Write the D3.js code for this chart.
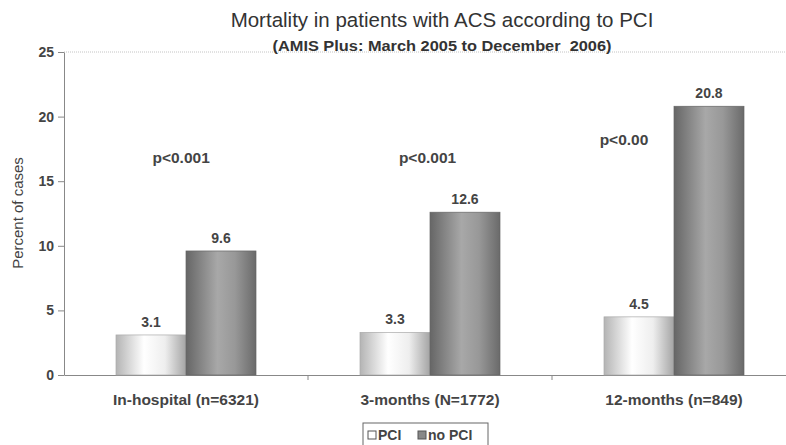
<!DOCTYPE html>
<html><head><meta charset="utf-8">
<script src="https://cdn.jsdelivr.net/npm/d3@7"></script>
<style>body{margin:0;background:#fff;}svg{display:block;font-family:"Liberation Sans",Arial,sans-serif;}</style>
</head><body>
<svg id="c" width="786" height="445"></svg>
<script>
const categories = ["In-hospital (n=6321)", "3-months (N=1772)", "12-months (n=849)"];
const seriesNames = ["PCI", "no PCI"];
const pciValues = [3.1, 3.3, 4.5];
const noPciValues = [9.6, 12.6, 20.8];
const pLabels = ["p<0.001", "p<0.001", "p<0.00"];
const pLevels = [16.8, 16.8, 18.2];
const yTicks = [0, 5, 10, 15, 20, 25];

const svg = d3.select("#c");
const W = 786;
const x0 = d3.scaleBand().domain(categories).range([64, 796]).paddingInner(0).paddingOuter(0);
const x1 = d3.scaleBand().domain(seriesNames).range([0, x0.bandwidth()]).paddingInner(0).paddingOuter(0.743);
const y = d3.scaleLinear().domain([0, 25]).range([375, 52]);
const pXfrac = [0.48, 0.49, 0.295];

const defs = svg.append("defs");
const g1 = defs.append("linearGradient").attr("id", "gPCI");
[[0,"#b4b4b4"],[0.4,"#ffffff"],[0.7,"#eeeeee"],[1,"#a4a4a4"]].forEach(s=>g1.append("stop").attr("offset",s[0]).attr("stop-color",s[1]));
const g2 = defs.append("linearGradient").attr("id", "gNo");
[[0,"#666666"],[0.45,"#a8a8a8"],[0.7,"#989898"],[1,"#6a6a6a"]].forEach(s=>g2.append("stop").attr("offset",s[0]).attr("stop-color",s[1]));

// top gridline
svg.append("line").attr("x1", 64).attr("x2", W).attr("y1", y(25)).attr("y2", y(25))
  .attr("stroke", "#c4c4c4").attr("stroke-dasharray", "1,1");

// y axis
const ya = svg.append("g").attr("transform", "translate(64,0)")
  .call(d3.axisLeft(y).tickValues(yTicks).tickSize(6).tickSizeOuter(0));
ya.select(".domain").attr("stroke", "#888");
ya.selectAll(".tick line").attr("stroke", "#888");
ya.selectAll("text").attr("fill", "#444").attr("font-size", 14).attr("font-weight", "bold").attr("dx", -1);

// x axis
const xa = svg.append("g").attr("transform", `translate(0,${y(0)})`)
  .call(d3.axisBottom(x0).tickSize(0).tickSizeOuter(0));
xa.select(".domain").attr("stroke", "#888");
xa.selectAll("text").attr("fill", "#444").attr("font-size", 15.5).attr("font-weight", "bold")
  .attr("y", 30).attr("dy", 0);
svg.selectAll(".bt").data(categories.slice(1)).enter().append("line")
  .attr("x1", d => x0(d)).attr("x2", d => x0(d)).attr("y1", y(0)).attr("y2", y(0) + 5).attr("stroke", "#888");

const data = categories.map((c, i) => ({c, vals: [pciValues[i], noPciValues[i]]}));
const grp = svg.selectAll(".grp").data(data).enter().append("g").attr("transform", d => `translate(${x0(d.c)},0)`);
grp.selectAll("rect").data(d => d.vals.map((v, j) => ({v, s: seriesNames[j]}))).enter().append("rect")
  .attr("x", d => x1(d.s)).attr("width", x1.bandwidth())
  .attr("y", d => y(d.v)).attr("height", d => y(0) - y(d.v))
  .attr("fill", d => d.s === "PCI" ? "url(#gPCI)" : "url(#gNo)")
  .attr("stroke", d => d.s === "PCI" ? "#aaa" : "#666").attr("stroke-width", 0.7);
grp.selectAll(".vl").data(d => d.vals.map((v, j) => ({v, s: seriesNames[j]}))).enter().append("text")
  .attr("x", d => x1(d.s) + x1.bandwidth() / 2).attr("y", d => y(d.v) - 8)
  .attr("text-anchor", "middle").attr("font-size", 14).attr("font-weight", "bold").attr("fill", "#444")
  .text(d => d.v.toFixed(1));

// p-values
svg.selectAll(".pv").data(categories).enter().append("text")
  .attr("x", (d, i) => x0(d) + x0.bandwidth() * pXfrac[i]).attr("y", (d, i) => y(pLevels[i]) + 5)
  .attr("text-anchor", "middle").attr("font-size", 15.5).attr("font-weight", "bold").attr("fill", "#444")
  .text((d, i) => pLabels[i]);

// titles
svg.append("text").attr("x", 442).attr("y", 27).attr("text-anchor", "middle")
  .attr("font-size", 20.5).attr("fill", "#333").text("Mortality in patients with ACS according to PCI");
svg.append("text").attr("x", 442).attr("y", 51).attr("text-anchor", "middle").style("white-space", "pre")
  .attr("font-size", 14).attr("font-weight", "bold").attr("fill", "#333")
  .attr("textLength", 339).attr("lengthAdjust", "spacingAndGlyphs")
  .text("(AMIS Plus: March 2005 to December  2006)");

// y label
svg.append("text").attr("transform", "translate(23,213) rotate(-90)").attr("text-anchor", "middle")
  .attr("font-size", 15).attr("fill", "#444").text("Percent of cases");

// legend
const lg = svg.append("g").attr("transform", "translate(363,423)");
lg.append("rect").attr("x", 0).attr("y", 0).attr("width", 125).attr("height", 24).attr("fill", "#fff").attr("stroke", "#666");
const items = lg.selectAll(".li").data(seriesNames).enter().append("g")
  .attr("transform", (d, i) => `translate(${i === 0 ? 5 : 55},0)`);
items.append("rect").attr("x", 0).attr("y", 8).attr("width", 8).attr("height", 8)
  .attr("fill", (d, i) => i === 0 ? "#fff" : "#888").attr("stroke", "#555");
items.append("text").attr("x", 10).attr("y", 17).attr("font-size", 14).attr("font-weight", "bold").attr("fill", "#444").text(d => d);
</script>
</body></html>
